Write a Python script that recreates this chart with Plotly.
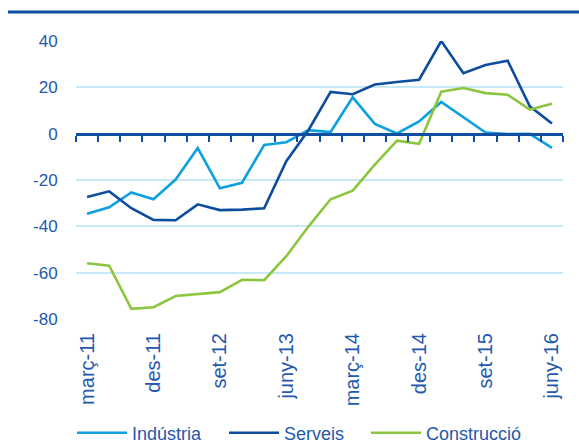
import plotly.graph_objects as go

months = ["març", "juny", "set", "des"]
categories = [f"{m}-{y}" for y in range(11, 17) for m in months][:22]
tick_labels = categories[::3]

industria = [-34.6, -31.8, -25.4, -28.3, -19.8, -6.2, -23.6, -21.2, -4.9, -3.7, 1.5,
             0.7, 15.7, 4.2, 0.1, 5.3, 13.7, 7.0, 0.5, -0.2, -0.1, -6.1]
serveis = [-27.3, -24.9, -32.2, -37.2, -37.4, -30.5, -33.0, -32.8, -32.2, -11.9, 1.5,
           18.0, 17.0, 21.2, 22.3, 23.3, 40.0, 26.1, 29.6, 31.5, 11.8, 4.4]
construccio = [-55.9, -57.0, -75.6, -74.9, -70.1, -69.4, -68.4, -63.1, -63.2, -52.9, -40.1,
               -28.3, -24.6, -13.4, -3.0, -4.4, 18.1, 19.7, 17.5, 16.8, 10.4, 12.9]

y_ticks = [40, 20, 0, -20, -40, -60, -80]
y_tick_text = ["40", "20", "0", "-20", "-40", "-60", "-80"]

C_IND = "#0EA0DF"
C_SER = "#0D4C9F"
C_CON = "#8CC63F"
C_TXT = "#2458AC"
C_AXIS = "#1150A0"
C_GRID = "#C6E8F7"

L, R, T, B = 76, 16, 41, 126
W, H = 579, 445
PW = W - L - R
PH = H - T - B

series = [("Indústria", industria, C_IND, "legend", 77),
          ("Serveis", serveis, C_SER, "legend2", 229),
          ("Construcció", construccio, C_CON, "legend3", 371)]

fig = go.Figure()
for name, vals, col, lg, _ in series:
    fig.add_trace(go.Scatter(x=categories, y=vals, name=name, mode="lines",
                             legend=lg, line=dict(color=col, width=2.6)))

# helper trace so the zero-crossing axis is drawn
fig.add_trace(go.Scatter(x=categories, y=serveis, xaxis="x2", mode="lines",
                         line=dict(color="rgba(0,0,0,0)", width=0),
                         showlegend=False, hoverinfo="skip"))

legend_common = dict(orientation="h", xanchor="left", y=-0.41, yanchor="middle",
                     font=dict(size=18, color=C_TXT), itemwidth=50,
                     bgcolor="rgba(0,0,0,0)")
legends = {}
for name, vals, col, lg, px in series:
    legends[lg] = dict(legend_common, x=(px - 5 - L) / PW)

fig.update_layout(
    width=W, height=H,
    margin=dict(l=L, r=R, t=T, b=B, autoexpand=False),
    paper_bgcolor="white", plot_bgcolor="white",
    font=dict(family="Liberation Sans, Arial, sans-serif", color=C_TXT, size=16),
    showlegend=True,
    **legends,
    xaxis=dict(type="category", categoryorder="array", categoryarray=categories,
               range=[-0.5, 21.5], tickmode="array", tickvals=tick_labels,
               ticktext=tick_labels, tickangle=-90, showgrid=False, showline=False,
               zeroline=False, ticks="outside", ticklen=5, tickcolor="rgba(0,0,0,0)",
               tickfont=dict(size=20, color=C_TXT), automargin=False),
    xaxis2=dict(type="category", categoryorder="array", categoryarray=categories,
                range=[-0.5, 21.5], overlaying="x", anchor="free", position=80/120,
                showticklabels=False, tickson="boundaries", ticks="outside",
                ticklen=6, tickwidth=2, tickcolor=C_AXIS, showline=True,
                linecolor=C_AXIS, linewidth=3, showgrid=False, zeroline=False),
    yaxis=dict(range=[-80, 40], tickmode="array", tickvals=y_ticks, ticktext=y_tick_text,
               showgrid=True, gridcolor=C_GRID,
               gridwidth=1.5, zeroline=False, showline=False, ticks="outside",
               ticklen=14, tickcolor="rgba(0,0,0,0)",
               tickfont=dict(size=17, color=C_TXT), automargin=False),
    shapes=[dict(type="line", xref="paper", yref="paper",
                 x0=(8 - L) / PW, x1=(W - L) / PW,
                 y0=1 + 29 / PH, y1=1 + 29 / PH,
                 line=dict(color="#0B4EA2", width=3))],
)

fig.write_html("out.html", config={"displayModeBar": False},
               post_script="document.body.style.margin='0';"
                           "document.body.style.overflow='hidden';")
